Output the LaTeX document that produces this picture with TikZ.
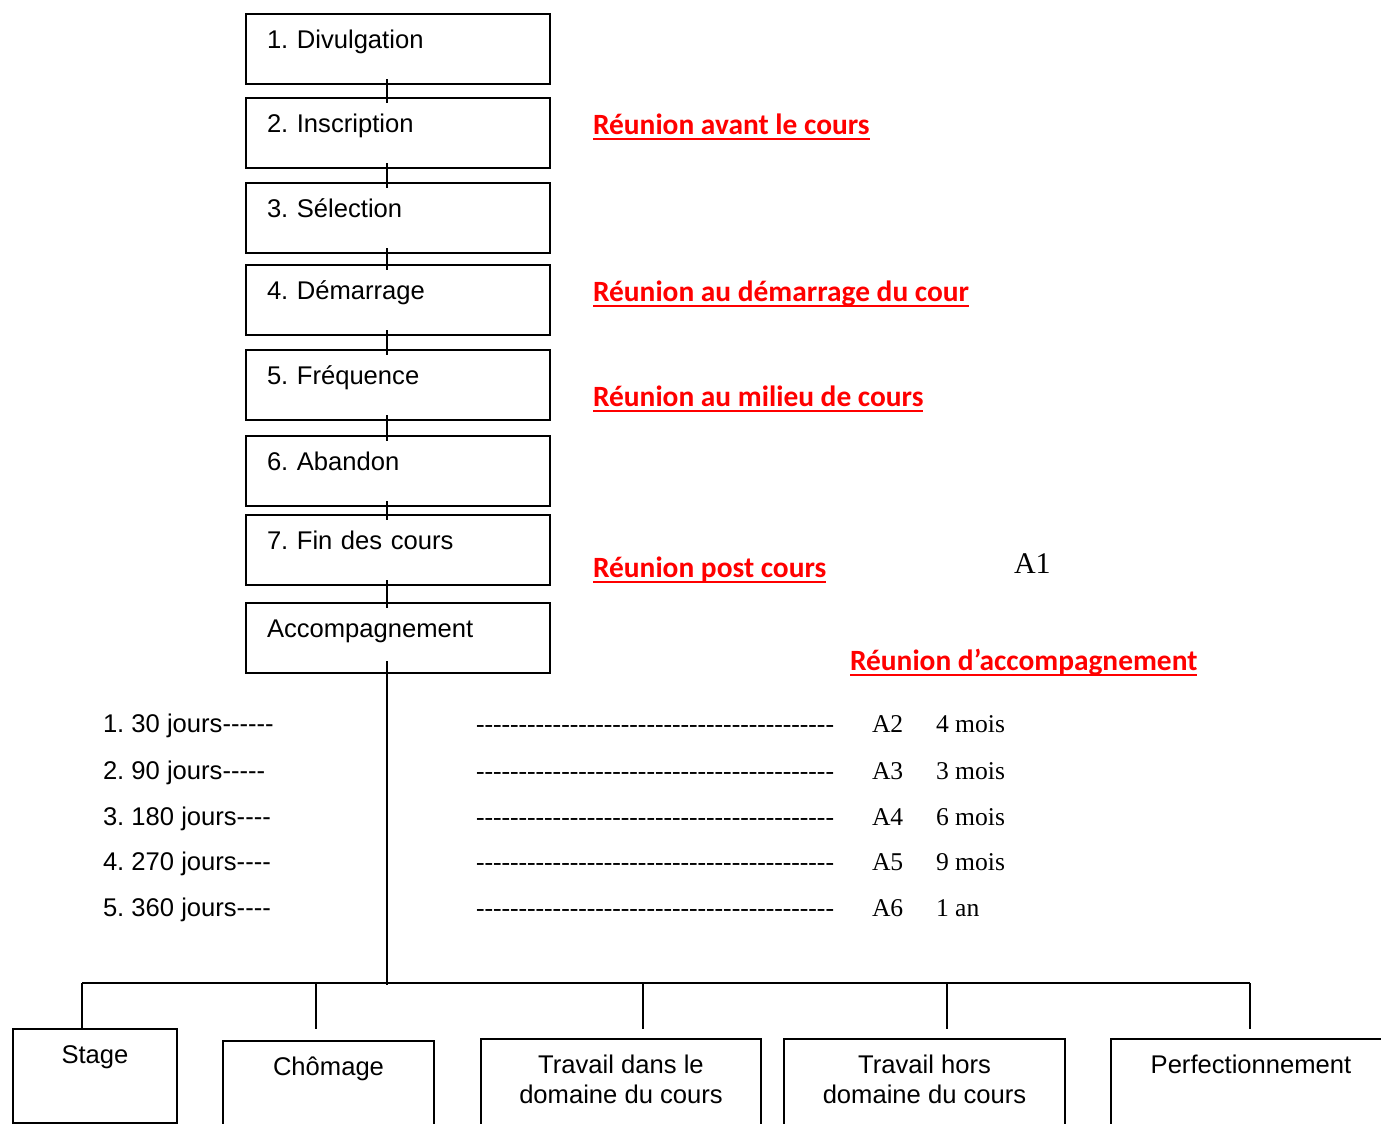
\documentclass[tikz,border=0pt]{standalone}
\usepackage{fontspec}
\setmainfont{Liberation Serif}
\newfontfamily\arialfont{Liberation Sans}
\newfontfamily\comicfont{Carlito}
\usetikzlibrary{calc}
\frenchspacing
\newcommand{\tirets}[1]{\foreach \k in {1,...,#1}{-}}
\newcommand{\souligne}[1]{\setbox0=\hbox{#1}\rlap{\rule[-3pt]{\wd0}{1pt}}\box0}

\begin{document}
\begin{tikzpicture}[x=0.5pt,y=-0.5pt,line width=1pt,
    arial/.style={font=\arialfont\fontsize{12.8}{15}\selectfont},
    times/.style={font=\fontsize{12.8}{15}\selectfont},
    etape/.style={arial,draw,rectangle,anchor=north west,text width=131pt,align=left,
        inner xsep=10.5pt,inner ysep=0pt,text height=17pt,text depth=18pt},
    issue/.style 2 args={arial,draw,rectangle,anchor=north west,align=center,
        inner xsep=0pt,inner ysep=0pt,text height=#1,text depth=#2},
    reunion/.style={anchor=base west,inner sep=0pt,text=red,
        font=\comicfont\bfseries\fontsize{14.7}{18}\selectfont},
    ligne/.style={anchor=base west,inner sep=0pt}]
\useasboundingbox (0,0) rectangle (1381,1124);
\clip (0,0) rectangle (1381,1124);

\foreach \y/\txt [count=\j] in {13/1. Divulgation,97/2. Inscription,182/3. Sélection,
    264/4. Démarrage,349/5. Fréquence,435/6. Abandon,514/7. Fin des cours,602/Accompagnement}
    \node[etape] (e\j) at (245,\y) {\txt};
\foreach \i in {1,...,7} {
    \pgfmathtruncatemacro{\n}{\i+1}
    \draw ([xshift=-5.5pt,yshift=3pt]e\i.south) -- ([xshift=-5.5pt,yshift=-3pt]e\n.north);
}

\node[reunion] (r1) at (592,134) {\souligne{Réunion avant le cours}};
\node[reunion] (r2) at (592,301) {\souligne{Réunion au démarrage du cour}};
\node[reunion] (r3) at (592,406) {\souligne{Réunion au milieu de cours}};
\node[reunion] (r4) at (592,577) {\souligne{Réunion post cours}};
\node[reunion] (r5) at (849,670) {\souligne{Réunion d’accompagnement}};
\node[ligne,font=\fontsize{15}{18}\selectfont] (a1) at (1013,573) {A1};

\foreach \y/\nb/\d/\duree [count=\j] in {732/30/6/4 mois,779/90/5/3 mois,825/180/4/6 mois,
    870/270/4/9 mois,916/360/4/1 an} {
    \pgfmathtruncatemacro{\a}{\j+1}
    \node[ligne,arial] (p\j) at (102,\y) {\j. \nb\ jours\tirets{\d}};
    \node[ligne,times] (t\j) at (475,\y) {\tirets{42}};
    \node[ligne,times] (a\a) at (871,\y) {A\a};
    \node[ligne,times] (m\j) at (935,\y) {\duree};
}

\node[issue={17pt}{30pt},minimum width=82pt] (i1) at (12,1028) {Stage};
\node[issue={17pt}{50pt},minimum width=105.5pt] (i2) at (222,1040) {Chômage};
\node[issue={32pt}{35pt},minimum width=140pt] (i3) at (480,1038) {Travail dans le\\domaine du cours};
\node[issue={32pt}{35pt},minimum width=140.5pt] (i4) at (783,1038) {Travail hors\\domaine du cours};
\node[issue={17pt}{50pt},minimum width=140pt] (i5) at (1110,1038) {Perfectionnement};

\foreach \x/\gap [count=\j] in {82/0pt,316/5.5pt,643/4.5pt,947/4.5pt,1250/4.5pt} {
    \coordinate (b\j) at (\x,983);
    \draw[shorten >=\gap] (b\j) -- (b\j |- i\j.north);
}
\draw (b1) -- (b5);
\coordinate (pied) at ([xshift=-5.5pt]e8.south |- b1);
\draw ([xshift=-5.5pt,yshift=6.5pt]e8.south) -- ([yshift=-1pt]pied);
\end{tikzpicture}
\end{document}
